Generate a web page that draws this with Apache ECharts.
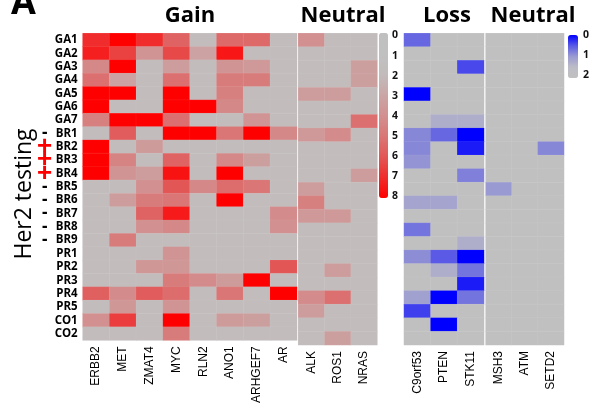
<!DOCTYPE html>
<html>
<head>
<meta charset="utf-8">
<script src="https://cdn.jsdelivr.net/npm/echarts@6/dist/echarts.min.js"></script>
<style>
  html, body { margin: 0; padding: 0; background: #fff; }
  #chart { width: 592px; height: 406px; }
</style>
</head>
<body>
<div id="chart"></div>
<script>
// rows top to bottom
const rows = ['GA1','GA2','GA3','GA4','GA5','GA6','GA7','BR1','BR2','BR3','BR4','BR5','BR6','BR7','BR8','BR9','PR1','PR2','PR3','PR4','PR5','CO1','CO2'];
// Her2 testing marks per row
const her2 = ['','','','','','','','-','+','+','+','-','-','-','-','-','','','','','','',''];

const gainCols = ['ERBB2','MET','ZMAT4','MYC','RLN2','ANO1','ARHGEF7','AR'];
const neutralCols = ['ALK','ROS1','NRAS'];
const lossCols = ['C9orf53','PTEN','STK11'];
const neutral2Cols = ['MSH3','ATM','SETD2'];

// copy number, one line per row
const gainVals = [
  [7, 8, 7, 5.6, 2, 5.4, 5.4, 2],
  [7.3, 6.5, 3.8, 6.3, 3.2, 7.5, 2, 2],
  [4.3, 8, 2, 3.4, 2, 3.8, 3.6, 2],
  [5.2, 3.2, 2, 5.2, 2, 4.8, 4.8, 2],
  [8, 8, 2, 8, 2, 4.6, 2, 2],
  [8, 2, 2, 8, 8, 4.3, 2, 2],
  [4.6, 8, 8, 5.2, 2, 2, 3.8, 2],
  [2, 5.8, 2, 8, 8, 5, 8, 4.3],
  [8, 2, 3.5, 2, 2, 2, 2, 2],
  [8, 4.5, 2, 5.6, 2, 4.3, 3.3, 2],
  [8, 3.8, 3.4, 7.6, 2, 8, 2, 2],
  [2, 2, 4, 6, 4.3, 5.3, 5, 2],
  [2, 3.4, 4.8, 5, 2, 8, 2, 2],
  [2, 2, 5.6, 7.4, 2, 2, 2, 4.2],
  [2, 2, 4, 4.3, 2, 2, 2, 4],
  [2, 4.8, 2, 2, 2, 2, 2, 2],
  [2, 2, 2, 3.8, 2, 2, 2, 2],
  [2, 2, 3.7, 3.7, 2, 2, 2, 6],
  [2, 2, 2, 4.8, 4.2, 3.5, 8, 2],
  [5.7, 4.2, 5.8, 5.3, 2, 5, 2, 8],
  [2, 3.7, 2, 3.8, 2, 2, 2, 2],
  [4, 6.6, 2, 8, 2, 3.5, 3.3, 2],
  [2, 2, 2, 4.8, 2, 2, 2, 2]
];
const neutralVals = [
  [4, 2, 2], [2, 2, 2], [2, 2, 3.3], [2, 2, 3.3], [3.4, 3.4, 2], [2, 2, 2],
  [2, 2, 5.2], [3.6, 4.2, 2], [2, 2, 2], [2, 2, 2], [2, 2, 3.4], [3.4, 2, 2],
  [4.6, 2, 2], [3.6, 3.6, 2], [2, 2, 2], [2, 2, 2], [2, 2, 2], [2, 3.4, 2],
  [2, 2, 2], [4.2, 5.2, 2], [3.4, 2, 2], [2, 2, 2], [2, 3.3, 2]
];
const lossVals = [
  [0.6, 2, 2], [2, 2, 2], [2, 2, 0.4], [2, 2, 2], [0, 2, 2], [2, 2, 2],
  [2, 1.3, 1.3], [0.85, 0.6, 0], [0.85, 2, 0.15], [0.95, 2, 2], [2, 2, 0.8], [2, 2, 2],
  [1.15, 1.15, 2], [2, 2, 2], [0.7, 2, 2], [2, 2, 1.3], [0.9, 0.5, 0], [2, 1.3, 0.7],
  [2, 2, 0.15], [1.1, 0, 0.7], [0.35, 2, 2], [2, 0, 2], [2, 2, 2]
];
const neutral2Vals = [
  [2, 2, 2], [2, 2, 2], [2, 2, 2], [2, 2, 2], [2, 2, 2], [2, 2, 2],
  [2, 2, 2], [2, 2, 2], [2, 2, 0.85], [2, 2, 2], [2, 2, 2], [1, 2, 2],
  [2, 2, 2], [2, 2, 2], [2, 2, 2], [2, 2, 2], [2, 2, 2], [2, 2, 2],
  [2, 2, 2], [2, 2, 2], [2, 2, 2], [2, 2, 2], [2, 2, 2]
];
const gainTicks = [0, 1, 2, 3, 4, 5, 6, 7, 8];
const lossTicks = [0, 1, 2];

const GRAY = '#c0c0c0';
const FONT = 'Open Sans';
const TOP = 33.3, H = 311.7;

function cells(vals) {
  const out = [];
  vals.forEach((r, i) => r.forEach((v, j) => out.push([j, i, v])));
  return out;
}

const blocks = [
  { cols: gainCols, vals: gainVals, left: 82.7, width: 214.3 },
  { cols: neutralCols, vals: neutralVals, left: 298.3, width: 79 },
  { cols: lossCols, vals: lossVals, left: 404, width: 80 },
  { cols: neutral2Cols, vals: neutral2Vals, left: 485.7, width: 78.3 }
];

const grids = blocks.map(b => ({ left: b.left, top: TOP, width: b.width, height: H }));
grids.push({ left: 379, top: 35.5, width: 9, height: 160.2 });
grids.push({ left: 568, top: 35.5, width: 10, height: 40 });

const xAxes = blocks.map((b, i) => ({
  type: 'category', gridIndex: i, data: b.cols, position: 'bottom',
  axisLine: { show: false }, axisTick: { show: false }, splitArea: { show: false },
  axisLabel: { interval: 0, rotate: 90, margin: 6, fontFamily: 'Liberation Sans', fontSize: 12, color: '#000' }
}));
xAxes.push({ type: 'value', gridIndex: 4, show: false });
xAxes.push({ type: 'value', gridIndex: 5, show: false });

const yAxes = blocks.map((b, i) => ({
  type: 'category', gridIndex: i, data: rows, inverse: true,
  axisLine: { show: false }, axisTick: { show: false },
  axisLabel: { show: i === 0, interval: 0, margin: 5, fontFamily: FONT, fontWeight: 'bold', fontSize: 11.5, color: '#000' }
}));
// Her2 marks column
yAxes.push({
  type: 'category', gridIndex: 0, data: rows, inverse: true, position: 'left',
  axisLine: { show: false }, axisTick: { show: false },
  axisLabel: {
    interval: 0, margin: 38, align: 'center',
    formatter: v => {
      const s = her2[rows.indexOf(v)];
      return s === '+' ? '{p|+}' : s === '-' ? '{m|-}' : '';
    },
    rich: {
      p: { color: '#ff0000', fontSize: 26, fontWeight: 'bold', fontFamily: 'Liberation Sans', lineHeight: 13 },
      m: { color: '#000', fontSize: 17, fontWeight: 'bold', fontFamily: FONT }
    }
  }
});
// colorbar tick labels
yAxes.push({
  type: 'value', gridIndex: 4, min: 0, max: 8, interval: 1, inverse: true, position: 'right',
  axisLine: { show: false }, axisTick: { show: false }, splitLine: { show: false },
  axisLabel: { margin: 4, fontFamily: FONT, fontWeight: 'bold', fontSize: 10.5, color: '#111', data: gainTicks }
});
yAxes.push({
  type: 'value', gridIndex: 5, min: 0, max: 2, interval: 1, inverse: true, position: 'right',
  axisLine: { show: false }, axisTick: { show: false }, splitLine: { show: false },
  axisLabel: { margin: 5, fontFamily: FONT, fontWeight: 'bold', fontSize: 10.5, color: '#111', data: lossTicks }
});

const series = blocks.map((b, i) => ({
  type: 'heatmap', xAxisIndex: i, yAxisIndex: i,
  data: cells(b.vals),
  itemStyle: { borderColor: 'rgba(255,255,255,0.06)', borderWidth: 1 },
  emphasis: { disabled: true }
}));

const titles = [
  { text: 'Gain', x: 190 }, { text: 'Neutral', x: 343 },
  { text: 'Loss', x: 447 }, { text: 'Neutral', x: 533 }
];

const chart = echarts.init(document.getElementById('chart'), null, { renderer: 'canvas' });
chart.setOption({
  animation: false,
  backgroundColor: '#fff',
  grid: grids,
  xAxis: xAxes,
  yAxis: yAxes,
  visualMap: [
    {
      type: 'continuous', seriesIndex: [0, 1], min: 0, max: 8, inverse: true,
      left: 379, top: 33, itemWidth: 9, itemHeight: 165, padding: 0,
      calculable: false, text: null, showLabel: false, hoverLink: false,
      inRange: { color: [GRAY, GRAY, '#c2bcbc', '#caa6a6', '#d29090', '#da7676', '#e35656', '#f02c2c', '#ff0000'] }
    },
    {
      type: 'continuous', seriesIndex: [2, 3], min: 0, max: 2, inverse: true,
      left: 568, top: 35, itemWidth: 10, itemHeight: 43, padding: 0,
      calculable: false, text: null, showLabel: false, hoverLink: false,
      inRange: { color: ['#0000ff', '#5a5ae6', '#9a9ad2', '#bcbcc6', GRAY] }
    }
  ],
  graphic: [
    { type: 'text', left: 11, top: -14, style: { text: 'A', fontFamily: FONT, fontWeight: 'bold', fontSize: 36, fill: '#000' } },
    {
      type: 'text', x: 24, y: 194, rotation: Math.PI / 2,
      style: { text: 'Her2 testing', fontFamily: FONT, fontSize: 23, fill: '#000', align: 'center', verticalAlign: 'middle' }
    },
    ...titles.map(t => ({
      type: 'text', x: t.x, y: 16,
      style: { text: t.text, fontFamily: FONT, fontWeight: 'bold', fontSize: 22, fill: '#000', align: 'center', verticalAlign: 'middle' }
    }))
  ],
  series: series
});
</script>
</body>
</html>
